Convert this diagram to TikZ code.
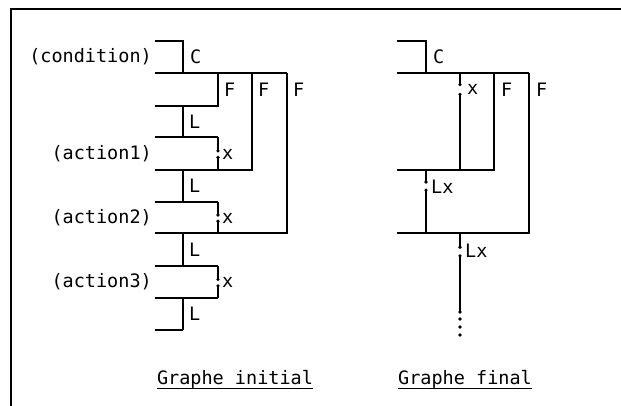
\documentclass[tikz,border=0pt]{standalone}
\usepackage{fontspec}
\setmonofont{DejaVu Sans Mono}
\usetikzlibrary{calc}
\tikzset{
  wire/.style={line width=1.1pt},
  lbl/.style={font=\ttfamily\fontsize{18.5}{22}\selectfont, inner sep=0pt},
  title/.style={lbl, anchor=base}
}
% wire from #1 to #2, cut between the fractions #3 and #4
\newcommand\cutwire[4]{%
  \draw[wire] (#1) -- ($(#1)!#3!(#2)$);
  \draw[wire] ($(#1)!#4!(#2)$) -- (#2);
  \fill ($(#1)!#3!(#2)$) circle (1.8);
  \fill ($(#1)!#4!(#2)$) circle (1.8);
}
\begin{document}
\begin{tikzpicture}[x=1pt,y=-1pt]
  \useasboundingbox (0,0) rectangle (621,405);
  % frame
  \draw[wire] (11,420) -- (11,9) -- (640,9);

  % ---- Graphe initial ----
  % condition
  \coordinate (c-in) at (155,41); \coordinate (c-top) at (183,41);
  \coordinate (c-out) at (183,73);
  \draw[wire] (c-in) -- (c-top) -- (c-out);
  % bar feeding the three F exits
  \coordinate (bar-l) at (155,73);
  \coordinate (f1-t) at (218,73); \coordinate (f2-t) at (252,73); \coordinate (f3-t) at (287,73);
  \draw[wire] (bar-l) -- (f3-t);
  \coordinate (f1-b) at (218,106); \coordinate (f1-l) at (155,106);
  \draw[wire] (f1-t) -- (f1-b) -- (f1-l);
  % L links on the trunk
  \coordinate (l1-t) at (183,106); \coordinate (l1-b) at (183,137);
  \coordinate (l2-t) at (183,170); \coordinate (l2-b) at (183,202);
  \coordinate (l3-t) at (183,233); \coordinate (l3-b) at (183,266);
  \coordinate (l4-t) at (183,298); \coordinate (l4-b) at (183,330);
  \draw[wire] (l1-t) -- (l1-b);
  \draw[wire] (l2-t) -- (l2-b);
  \draw[wire] (l3-t) -- (l3-b);
  \draw[wire] (l4-t) -- (l4-b);
  \coordinate (end-l) at (155,330);
  \draw[wire] (l4-b) -- (end-l);
  % action1
  \coordinate (a1-tl) at (155,137); \coordinate (a1-tr) at (218,137);
  \coordinate (a1-br) at (218,170); \coordinate (a1-bl) at (155,170);
  \coordinate (f2-b) at (252,170);
  \draw[wire] (a1-tl) -- (a1-tr);
  \cutwire{a1-tr}{a1-br}{0.42}{0.62}
  \draw[wire] (a1-bl) -- (f2-b) -- (f2-t);
  % action2
  \coordinate (a2-tl) at (155,202); \coordinate (a2-tr) at (218,202);
  \coordinate (a2-br) at (218,233); \coordinate (a2-bl) at (155,233);
  \coordinate (f3-b) at (287,233);
  \draw[wire] (a2-tl) -- (a2-tr);
  \cutwire{a2-tr}{a2-br}{0.42}{0.62}
  \draw[wire] (a2-bl) -- (f3-b) -- (f3-t);
  % action3
  \coordinate (a3-tl) at (155,266); \coordinate (a3-tr) at (218,266);
  \coordinate (a3-br) at (218,298); \coordinate (a3-bl) at (155,298);
  \draw[wire] (a3-tl) -- (a3-tr);
  \cutwire{a3-tr}{a3-br}{0.42}{0.62}
  \draw[wire] (a3-br) -- (a3-bl);

  % labels
  \node[lbl, anchor=east] (cond) at (152,57) {(condition)};
  \node[lbl, anchor=east] (act1) at (152,154) {(action1)};
  \node[lbl, anchor=east] (act2) at (152,218) {(action2)};
  \node[lbl, anchor=east] (act3) at (152,282) {(action3)};
  \node[lbl, anchor=west] (lc) at (190,57) {C};
  \node[lbl, anchor=west] (lf1) at (224,90) {F};
  \node[lbl, anchor=west] (lf2) at (258,90) {F};
  \node[lbl, anchor=west] (lf3) at (293,90) {F};
  \node[lbl, anchor=west] (ll1) at (189,122) {L};
  \node[lbl, anchor=west] (ll2) at (189,186) {L};
  \node[lbl, anchor=west] (ll3) at (189,250) {L};
  \node[lbl, anchor=west] (ll4) at (189,314) {L};
  \node[lbl, anchor=west] (lx1) at (222,154) {x};
  \node[lbl, anchor=west] (lx2) at (222,218) {x};
  \node[lbl, anchor=west] (lx3) at (222,282) {x};

  % ---- Graphe final ----
  \coordinate (d-in) at (397,41); \coordinate (d-top) at (426,41);
  \coordinate (d-out) at (426,73);
  \draw[wire] (d-in) -- (d-top) -- (d-out);
  \coordinate (dbar-l) at (397,73);
  \coordinate (g1-t) at (460,73); \coordinate (g2-t) at (494,73); \coordinate (g3-t) at (529,73);
  \draw[wire] (dbar-l) -- (g3-t);
  \coordinate (g1-b) at (460,170); \coordinate (g2-b) at (494,170);
  \coordinate (mid-l) at (397,170);
  \cutwire{g1-t}{g1-b}{0.12}{0.22}
  \draw[wire] (mid-l) -- (g2-b) -- (g2-t);
  % Lx loop
  \coordinate (lx-t) at (426,170); \coordinate (lx-b) at (426,233);
  \cutwire{lx-t}{lx-b}{0.19}{0.32}
  \coordinate (low-l) at (397,233); \coordinate (g3-b) at (529,233);
  \draw[wire] (low-l) -- (g3-b) -- (g3-t);
  % Lx exit and continuation
  \coordinate (ex-t) at (460,233); \coordinate (ex-b) at (460,312);
  \cutwire{ex-t}{ex-b}{0.18}{0.29}
  \foreach \y in {312,319,327,335} \fill (460,\y) circle (1.8);

  % labels
  \node[lbl, anchor=west] (mc) at (433,57) {C};
  \node[lbl, anchor=west] (mf2) at (501,90) {F};
  \node[lbl, anchor=west] (mf3) at (536,90) {F};
  \node[lbl, anchor=west] (mx) at (467,89) {x};
  \node[lbl, anchor=west] (mlx1) at (431,187) {Lx};
  \node[lbl, anchor=west] (mlx2) at (465,251) {Lx};

  % titles
  \node[title] (gi) at (235,384) {Graphe initial};
  \draw[wire] (gi.south west) -- (gi.south east);
  \node[title] (gf) at (465,384) {Graphe final};
  \draw[wire] (gf.south west) -- (gf.south east);
\end{tikzpicture}
\end{document}
